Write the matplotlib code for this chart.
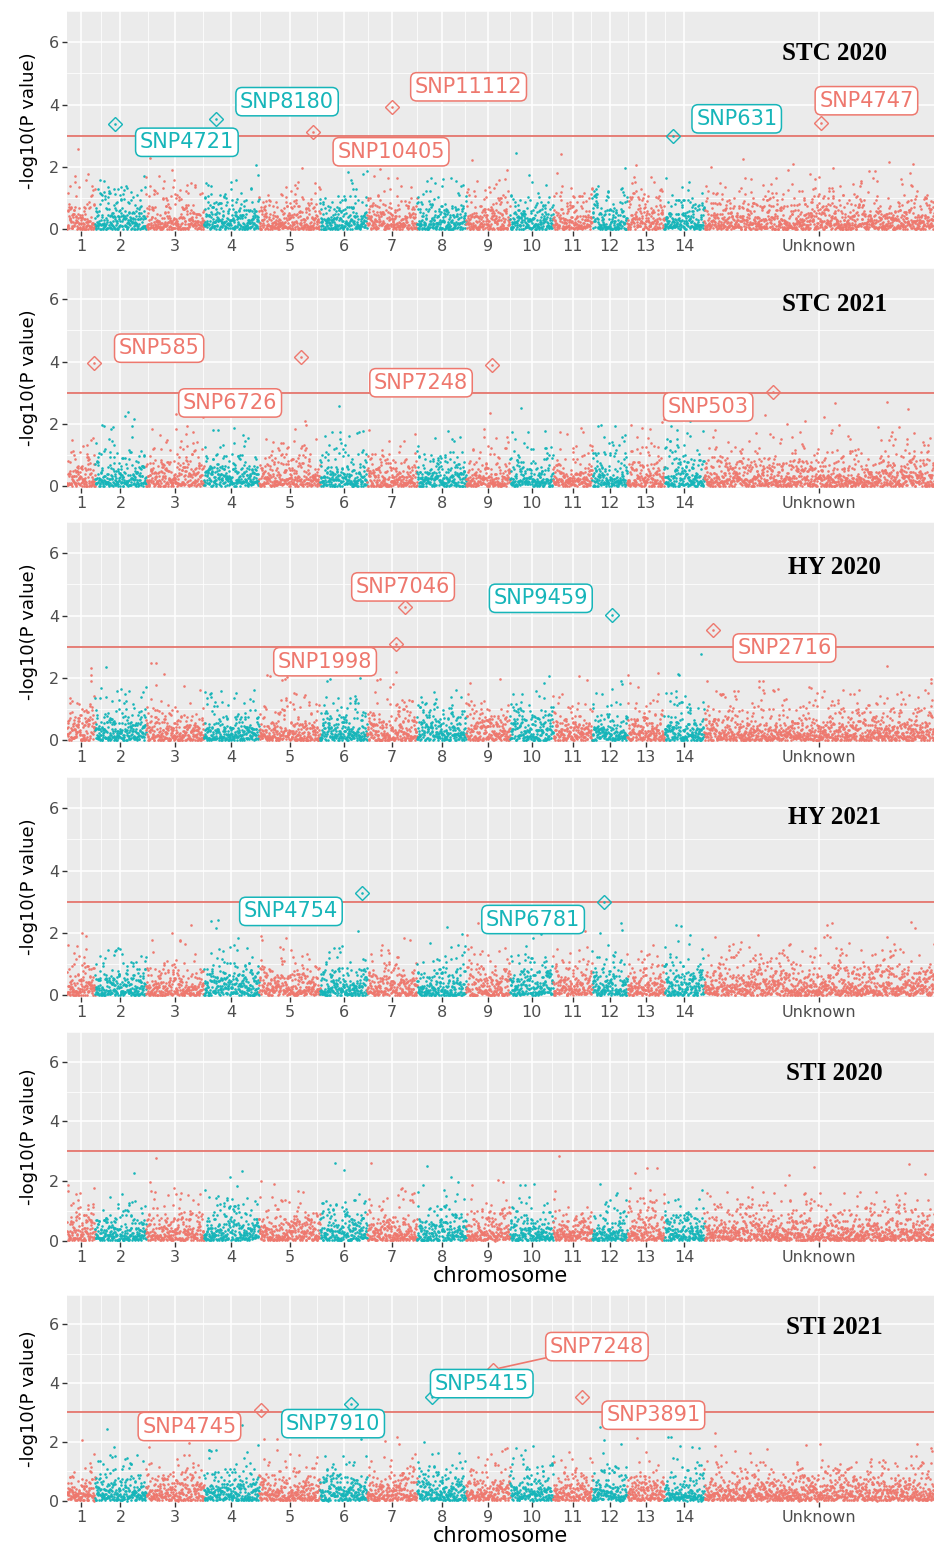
import numpy as np
import matplotlib.pyplot as plt

# linkage groups and number of SNPs on each
chromosomes = ['1', '2', '3', '4', '5', '6', '7', '8', '9', '10', '11', '12', '13', '14', 'Unknown']
snp_counts = [126, 230, 261, 248, 275, 212, 225, 221, 198, 194, 176, 158, 167, 180, 1035]

traits = ['STC 2020', 'STC 2021', 'HY 2020', 'HY 2021', 'STI 2020', 'STI 2021']
threshold = 3.0

# significant SNPs per trait: name, chromosome index, relative position on it, -log10(p)
sig_names = [
    ['SNP4721', 'SNP8180', 'SNP10405', 'SNP11112', 'SNP631', 'SNP4747'],
    ['SNP585', 'SNP6726', 'SNP7248', 'SNP503'],
    ['SNP7046', 'SNP1998', 'SNP9459', 'SNP2716'],
    ['SNP4754', 'SNP6781'],
    [],
    ['SNP4745', 'SNP7910', 'SNP5415', 'SNP7248', 'SNP3891'],
]
sig_chrom = [
    [1, 3, 4, 6, 13, 14],
    [0, 4, 8, 14],
    [6, 6, 11, 14],
    [5, 11],
    [],
    [4, 5, 7, 8, 10],
]
sig_pos = [
    [0.39, 0.22, 0.885, 0.49, 0.21, 0.51],
    [0.97, 0.69, 0.59, 0.30],
    [0.76, 0.58, 0.56, 0.04],
    [0.89, 0.34],
    [],
    [0.04, 0.66, 0.30, 0.61, 0.75],
]
sig_logp = [
    [3.37, 3.55, 3.13, 3.93, 3.00, 3.42],
    [3.95, 4.15, 3.90, 3.03],
    [4.28, 3.10, 4.01, 3.54],
    [3.27, 3.01],
    [],
    [3.10, 3.30, 3.54, 4.46, 3.52],
]

# label placement (pixel offsets from the point) and which labels get a leader line
label_offsets = [
    [(72, -18), (71, 17), (78, -20), (77, 20), (64, 17), (45, 22)],
    [(65, 15), (-71, -46), (-71, -18), (-65, -15)],
    [(-2, 20), (-71, -18), (-71, 17), (71, -18)],
    [(-71, -18), (-71, -18)],
    [],
    [(-72, -17), (-18, -20), (50, 13), (104, 23), (71, -18)],
]
leader = {(5, 3)}

salmon = '#EE786E'
teal = '#16B5B9'

offsets = np.concatenate([[0], np.cumsum(snp_counts)])
mids = offsets[:-1] + np.array(snp_counts) / 2
total = offsets[-1]
minor_x = (mids[:-2] + mids[1:-1]) / 2

W, H = 934, 1544
panel_px = [(11, 231), (268, 488), (522, 742), (777, 997), (1032, 1242), (1295, 1502)]
y_top = [7.0, 7.0, 7.0, 7.0, 7.0, 6.78]
title_y = [5.43, 5.63, 5.34, 5.48, 5.39, 5.68]

fig = plt.figure(figsize=(W / 100, H / 100), dpi=100)
rng = np.random.default_rng(11112)
p_floor = 10 ** -3.2

for i, trait in enumerate(traits):
    top, bot = panel_px[i]
    ax = fig.add_axes([67 / W, 1 - bot / H, 867 / W, (bot - top) / H])
    ax.set_facecolor('#EBEBEB')
    for s in ax.spines.values():
        s.set_visible(False)

    # background association scan (null SNPs stay under the threshold)
    for c, n in enumerate(snp_counts):
        col = salmon if c % 2 == 0 else teal
        x = offsets[c] + np.arange(n) + 0.5
        p = p_floor + (1 - p_floor) * rng.uniform(size=n)
        y = -0.9 * np.log10(p)
        ax.scatter(x, y, s=3.5, color=col, lw=0, zorder=2)

    ax.axhline(threshold, color='#E36A61', lw=1.2, zorder=3)

    for k, name in enumerate(sig_names[i]):
        c = sig_chrom[i][k]
        col = salmon if c % 2 == 0 else teal
        x = offsets[c] + sig_pos[i][k] * snp_counts[c]
        y = sig_logp[i][k]
        ax.scatter([x], [y], s=3.5, color=col, lw=0, zorder=4)
        ax.plot([x], [y], marker='D', ms=7, mfc='none', mec=col, mew=1.0, zorder=4)
        arrow = None
        if (i, k) in leader:
            arrow = dict(arrowstyle='-', color=col, lw=1.2, shrinkA=0, shrinkB=5)
        ax.annotate(name, xy=(x, y), xytext=label_offsets[i][k], textcoords='offset pixels',
                    ha='center', va='center', fontsize=15, color=col, zorder=5,
                    bbox=dict(boxstyle='round,pad=0.2,rounding_size=0.3', fc='white', ec=col, lw=1.1),
                    arrowprops=arrow)

    ax.text(0.885, title_y[i], trait, transform=ax.get_yaxis_transform(), ha='center',
            va='baseline', fontsize=18, fontweight='bold', family='Liberation Serif', zorder=6)

    ax.set_xlim(0, total)
    ax.set_ylim(-0.05, y_top[i])
    ax.set_xticks(mids, chromosomes)
    ax.set_xticks(minor_x, minor=True)
    ax.set_yticks([0, 2, 4, 6])
    ax.set_yticks([1, 3, 5, 7], minor=True)
    ax.grid(which='major', color='white', lw=1.1)
    ax.grid(which='minor', color='white', lw=0.55)
    ax.set_axisbelow(True)
    ax.tick_params(which='major', length=3.5, width=1, color='#333333',
                   labelcolor='#4D4D4D', labelsize=11.5, pad=2)
    ax.tick_params(which='minor', length=0)

    ax.set_ylabel('-log10(P value)', fontsize=13, color='black')
    ax.yaxis.set_label_coords(-0.034, 0.5)
    if i >= 4:
        ax.set_xlabel('chromosome', fontsize=15, color='black')
        ax.xaxis.set_label_coords(0.5, -24 / (bot - top))

fig.savefig('out.png', dpi=100)
